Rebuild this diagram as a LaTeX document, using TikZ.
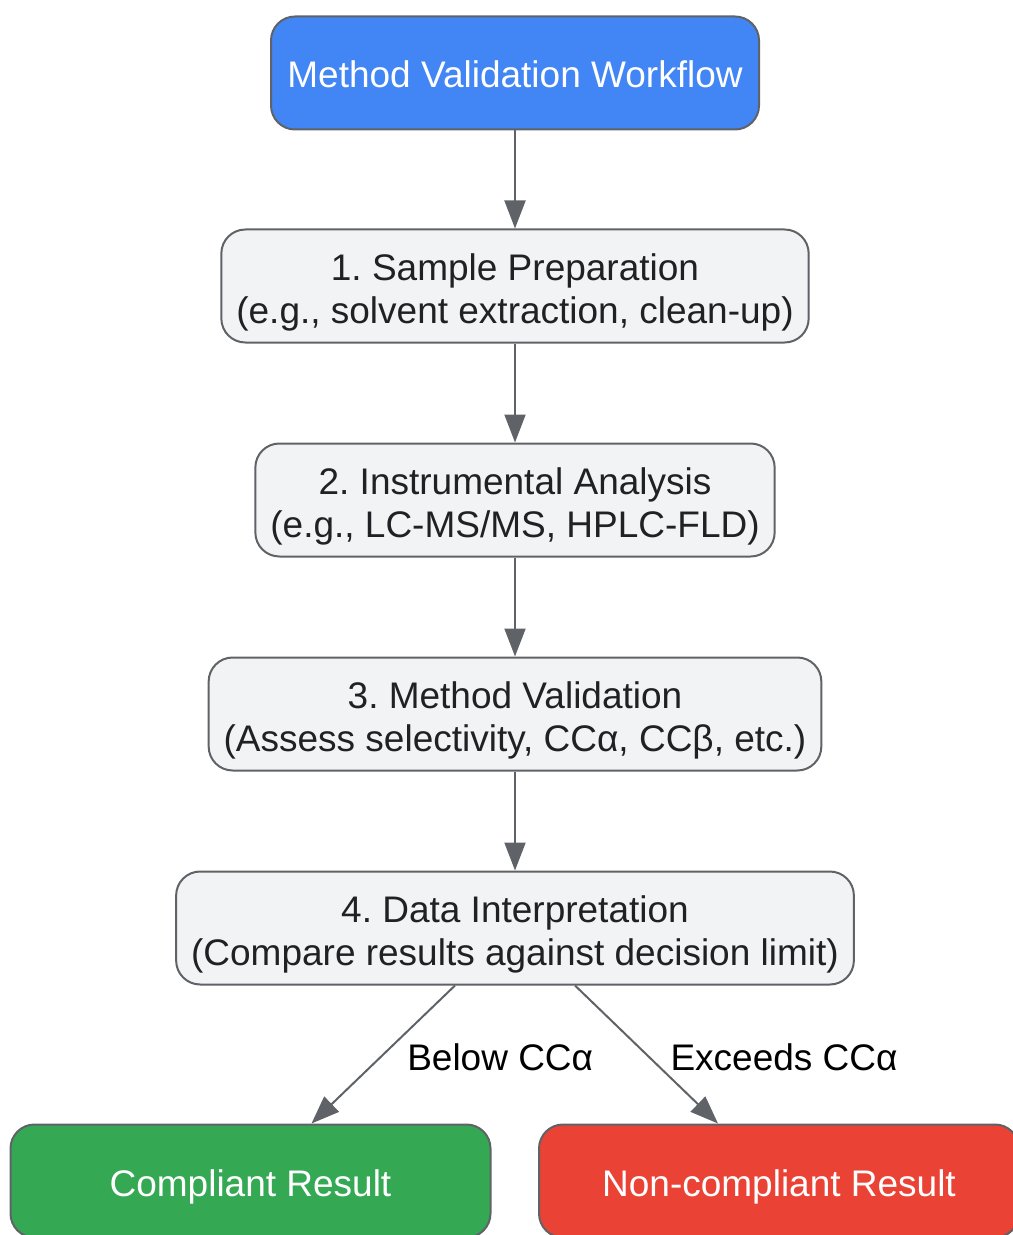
\documentclass[tikz,border=0pt]{standalone}
\usepackage{fontspec}
\setmainfont{Liberation Sans}
\usetikzlibrary{positioning, arrows.meta}
\definecolor{flowBlue}{HTML}{4285F4}
\definecolor{flowGreen}{HTML}{34A853}
\definecolor{flowRed}{HTML}{EA4335}
\definecolor{boxGray}{HTML}{F1F3F4}
\definecolor{lineGray}{HTML}{5F6368}
\definecolor{textDark}{HTML}{202124}
\newcommand{\topstrut}{\rule{0pt}{19.5pt}}

\begin{document}
\begin{tikzpicture}[x=0.5pt, y=-0.5pt, >={Triangle[length=14pt, width=10.5pt]},
    box/.style={draw=lineGray, line width=1pt, rounded corners=12pt, align=center,
        minimum height=56.5pt, inner xsep=7.5pt, inner ysep=2pt,
        font=\fontsize{18.5}{21.5}\selectfont\frenchspacing},
    endbox/.style={box, text=white, text height=19pt, text depth=4pt},
    stepbox/.style={box, fill=boxGray, text=textDark},
    flow/.style={->, draw=lineGray, line width=1pt},
    edgelabel/.style={inner sep=0pt, yshift=-1.5pt, font=\fontsize{18.5}{21.5}\selectfont}]
    % page frame
    \useasboundingbox (0, 0) rectangle (1012, 1235);

    % nodes
    \node[endbox, fill=flowBlue, minimum width=244pt] (title) at (515, 73) {Method Validation Workflow};
    \node[stepbox] (prep) at (515, 286) {\topstrut 1. Sample Preparation\\(e.g., solvent extraction, clean-up)};
    \node[stepbox] (instr) at (515, 500) {\topstrut 2. Instrumental Analysis\\(e.g., LC-MS/MS, HPLC-FLD)};
    \node[stepbox] (valid) at (515, 714) {\topstrut 3. Method Validation\\(Assess selectivity, CCα, CCβ, etc.)};
    \node[stepbox] (interp) at (515, 928) {\topstrut 4. Data Interpretation\\(Compare results against decision limit)};
    \node[endbox, fill=flowGreen, minimum width=240pt] (comply) at (250.5, 1181) {Compliant Result};
    \node[endbox, fill=flowRed, minimum width=240pt] (noncomply) at (779, 1181) {Non-compliant Result};

    % connectors
    \draw[flow] (title) -- (prep);
    \draw[flow] (prep) -- (instr);
    \draw[flow] (instr) -- (valid);
    \draw[flow] (valid) -- (interp);
    \draw[flow] ([xshift=-30pt]interp.south) -- ([xshift=30.5pt]comply.north)
        node[edgelabel, midway, right=11.5pt] (below) {Below CCα};
    \draw[flow] ([xshift=30pt]interp.south) -- ([xshift=-30.5pt]noncomply.north)
        node[edgelabel, midway, right=11.5pt] (exceeds) {Exceeds CCα};
\end{tikzpicture}
\end{document}
